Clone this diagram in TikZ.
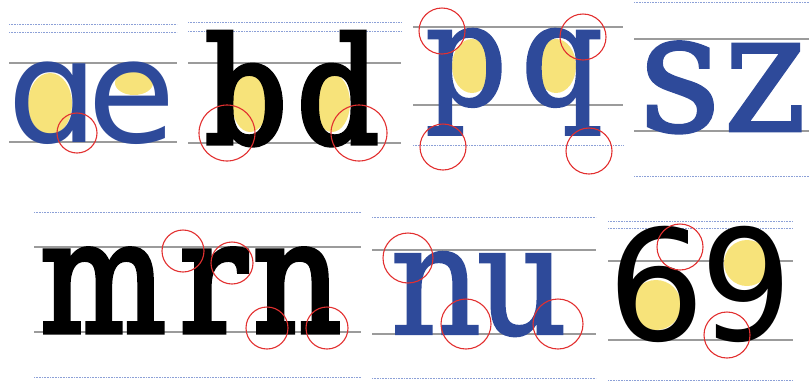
\documentclass[tikz,border=0pt]{standalone}
\usepackage{fontspec}
\newfontfamily\gsans{DejaVu Sans}
\newfontfamily\gserifblue[FakeBold=1.5]{DejaVu Serif}
\newfontfamily\gserifblack[FakeBold=3.5]{DejaVu Serif}
\definecolor{gblue}{RGB}{46,74,154}
\definecolor{gyellow}{RGB}{247,227,122}
\definecolor{gred}{RGB}{226,48,48}
\definecolor{ggray}{RGB}{155,155,155}
\definecolor{gdot}{RGB}{140,160,215}
\tikzset{
  guide/.style={draw=ggray, line width=1.3pt},
  dotline/.style={draw=gdot, line width=1pt, dash pattern=on 0.8pt off 0.8pt},
  mark circle/.style={draw=gred, line width=1.1pt},
  counter/.style={fill=gyellow, draw=none},
  glyph/.style={inner sep=0pt, outer sep=0pt, anchor=base},
}
\newcommand{\narrow}[2]{\scalebox{#1}[1]{#2}}
\begin{document}
\begin{tikzpicture}[x=1pt,y=-1pt]
\useasboundingbox (0,0) rectangle (809,384);
% ---------- panel 1: a e ----------
\draw[dotline] (9,24) -- (177,24);
\draw[dotline] (9,32) -- (177,32);
\draw[guide] (9,63) -- (177,63);
\draw[guide] (9,142) -- (177,142);
\fill[counter] (50,104) ellipse (22 and 31);
\fill[counter] (134,83) ellipse (19 and 12);
\node[glyph, text=gblue, font=\gsans\fontsize{144}{144}\selectfont] (a) at (53,142) {ɑ};
\node[glyph, text=gblue, font=\gsans\fontsize{144}{144}\selectfont] (e) at (132,142) {e};
\draw[mark circle] (77,133) circle (20);
% ---------- panel 2: b d ----------
\draw[dotline] (188,22) -- (401,22);
\draw[dotline] (188,31) -- (401,31);
\draw[guide] (188,63) -- (401,63);
\draw[guide] (188,143) -- (401,143);
\fill[counter] (250,103) ellipse (18 and 29);
\fill[counter] (332,103) ellipse (18 and 29);
\node[glyph, text=black, font=\gserifblack\fontsize{146}{146}\selectfont] (b) at (246,143) {\narrow{0.88}{b}};
\node[glyph, text=black, font=\gserifblack\fontsize{146}{146}\selectfont] (d) at (338,143) {\narrow{0.88}{d}};
\draw[mark circle] (227,133) circle (28);
\draw[mark circle] (359,133) circle (28);
% ---------- panel 3: p q ----------
\draw[guide] (413,27) -- (623,27);
\draw[guide] (413,105) -- (623,105);
\draw[dotline] (413,145) -- (623,145);
\fill[counter] (472,66) ellipse (20 and 27);
\fill[counter] (556,66) ellipse (20 and 27);
\node[glyph, text=gblue, font=\gserifblue\fontsize{143}{143}\selectfont] (p) at (466,105) {\narrow{0.9}{p}};
\node[glyph, text=gblue, font=\gserifblue\fontsize{143}{143}\selectfont] (q) at (562,105) {\narrow{0.9}{q}};
\draw[mark circle] (442,31) circle (23);
\draw[mark circle] (443,147) circle (23);
\draw[mark circle] (583,37) circle (23);
\draw[mark circle] (589,151) circle (23);
% ---------- panel 4: s z ----------
\draw[dotline] (634,2) -- (809,2);
\draw[guide] (634,39) -- (809,39);
\draw[guide] (634,131) -- (809,131);
\draw[dotline] (634,176) -- (809,176);
\node[glyph, text=gblue, font=\gserifblue\fontsize{168}{168}\selectfont] (s) at (680,131) {\narrow{0.95}{s}};
\node[glyph, text=gblue, font=\gserifblue\fontsize{168}{168}\selectfont] (z) at (765,131) {\narrow{0.93}{z}};
% ---------- panel 5: m r n ----------
\draw[dotline] (34,212) -- (361,212);
\draw[guide] (34,247) -- (361,247);
\draw[guide] (34,332) -- (361,332);
\draw[dotline] (34,377) -- (361,377);
\node[glyph, text=black, font=\gserifblack\fontsize{156}{156}\selectfont] (m) at (103,332) {\narrow{0.85}{m}};
\node[glyph, text=black, font=\gserifblack\fontsize{156}{156}\selectfont] (r) at (213,332) {\narrow{0.9}{r}};
\node[glyph, text=black, font=\gserifblack\fontsize{156}{156}\selectfont] (n) at (297,332) {\narrow{0.88}{n}};
\draw[mark circle] (183,251) circle (21);
\draw[mark circle] (232,263) circle (21);
\draw[mark circle] (267,328) circle (21);
\draw[mark circle] (327,328) circle (21);
% ---------- panel 6: n u ----------
\draw[dotline] (372,217) -- (596,217);
\draw[guide] (372,250) -- (596,250);
\draw[guide] (372,334) -- (596,334);
\draw[dotline] (372,378) -- (596,378);
\node[glyph, text=gblue, font=\gserifblue\fontsize{154}{154}\selectfont] (n2) at (436,334) {\narrow{0.92}{n}};
\node[glyph, text=gblue, font=\gserifblue\fontsize{154}{154}\selectfont] (u) at (522,334) {\narrow{0.92}{u}};
\draw[mark circle] (408,258) circle (25);
\draw[mark circle] (466,324) circle (25);
\draw[mark circle] (558,324) circle (25);
% ---------- panel 7: 6 9 ----------
\draw[dotline] (608,221) -- (793,221);
\draw[dotline] (608,228) -- (793,228);
\draw[guide] (608,261) -- (793,261);
\draw[guide] (608,340) -- (793,340);
\draw[dotline] (608,380) -- (793,380);
\fill[counter] (656,305) circle (25);
\fill[counter] (747,263) circle (23);
\node[glyph, text=black, font=\gsans\fontsize{154}{154}\selectfont] (six) at (656,340) {6};
\node[glyph, text=black, font=\gsans\fontsize{154}{154}\selectfont] (nine) at (747,340) {\narrow{0.94}{9}};
\draw[mark circle] (680,247) circle (23);
\draw[mark circle] (727,335) circle (23);
\end{tikzpicture}
\end{document}
